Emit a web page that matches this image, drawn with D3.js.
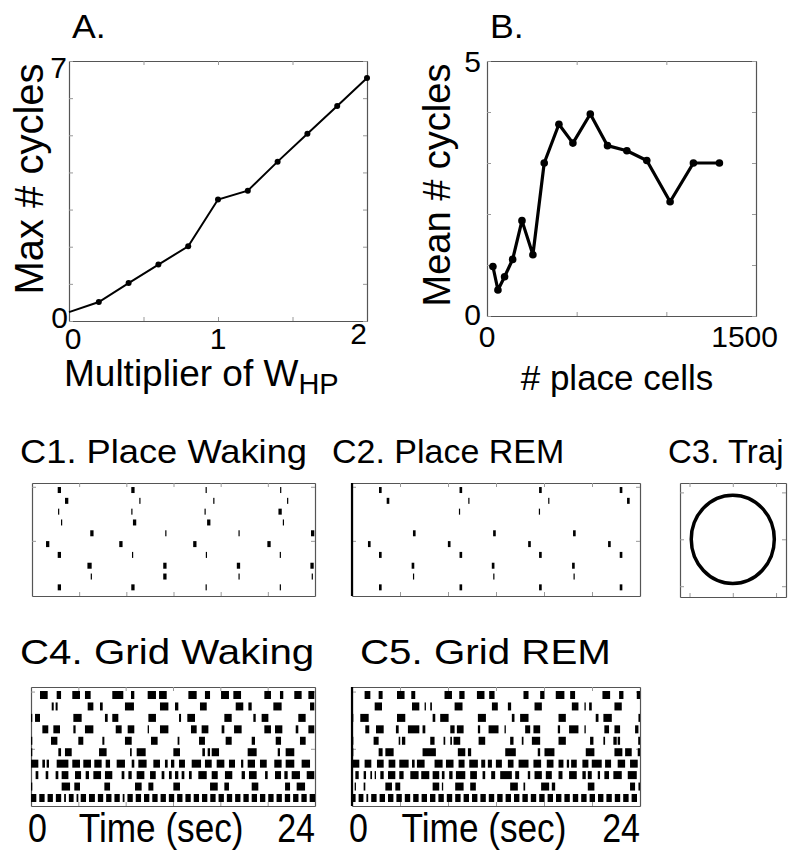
<!DOCTYPE html>
<html>
<head>
<meta charset="utf-8">
<script src="https://cdn.jsdelivr.net/npm/d3@7"></script>
<style>
  body { margin: 0; background: #fff; }
  text { font-family: "Liberation Sans", Arial, Helvetica, sans-serif; fill: #000; }
</style>
</head>
<body>
<svg id="fig" width="792" height="857"></svg>
<script>
// ---- panel A: max # cycles vs multiplier of W_HP
var multW = [0, 0.2, 0.4, 0.6, 0.8, 1.0, 1.2, 1.4, 1.6, 1.8, 2.0];
var maxCycles = [0.24, 0.51, 1.02, 1.52, 2.01, 3.27, 3.51, 4.29, 5.04, 5.79, 6.54];

// ---- panel B: mean # cycles vs # place cells
var nPlaceCells = [33, 61, 98, 143, 195, 256, 319, 401, 479, 576, 672, 780, 891, 1021, 1151, 1296];
var meanCycles = [0.97, 0.51, 0.77, 1.11, 1.87, 1.2, 3.0, 3.76, 3.39, 3.96, 3.34, 3.24, 3.05, 2.24, 3.0, 3.0];

// ---- C1 / C2: place cell spikes, one list per cell, [time (s), duration (s)]
var placeWaking = [
  [[2.32, 0.28], [8.56, 0.28], [14.77, 0.1], [21.09, 0.1]],
  [[2.94, 0.28], [9.15, 0.1], [15.42, 0.1], [21.68, 0.1]],
  [[2.26, 0.1], [8.47, 0.1], [14.68, 0.1], [21.04, 0.28]],
  [[2.51, 0.1], [8.70, 0.28], [14.99, 0.28], [21.32, 0.1]],
  [[5.08, 0.28], [11.35, 0.1], [17.56, 0.1], [23.8, 0.28]],
  [[1.33, 0.28], [7.54, 0.28], [13.81, 0.28], [20.1, 0.28]],
  [[2.32, 0.28], [8.53, 0.1], [14.79, 0.1], [21.06, 0.1]],
  [[4.88, 0.36], [11.27, 0.28], [17.51, 0.28], [23.75, 0.28]],
  [[5.03, 0.1], [11.27, 0.28], [17.56, 0.1], [23.77, 0.1]],
  [[2.32, 0.28], [8.56, 0.28], [14.77, 0.1], [21.06, 0.1]]
];
var placeREM = [
  [[2.36, 0.22], [9.07, 0.22], [15.7, 0.22], [22.42, 0.22]],
  [[3.0, 0.22], [9.74, 0.1], [16.4, 0.1], [23.03, 0.22]],
  [[8.96, 0.1], [15.62, 0.1]],
  [],
  [[5.19, 0.22], [11.87, 0.22], [18.53, 0.22]],
  [[1.44, 0.22], [8.1, 0.22], [14.79, 0.22], [21.45, 0.22]],
  [[2.36, 0.22], [9.07, 0.22], [15.7, 0.22], [22.42, 0.22]],
  [[5.08, 0.22], [11.76, 0.22], [18.45, 0.22]],
  [[5.13, 0.1], [11.82, 0.1], [18.51, 0.1]],
  [[2.36, 0.22], [9.07, 0.22], [15.7, 0.22], [22.42, 0.22]]
];

// ---- C3: trajectory
var trajCenter = [0, 0];
var trajRadius = [0.96, 0.94];

// ---- C4 / C5: grid cell bursts, one list per cell, [start, end] (s)
var gridWaking = [
  [[0.76,1.41],[2.17,2.54],[3.49,4.14],[4.56,5.04],[6.87,7.8],[8.45,8.73],[9.86,10.56],[10.82,11.47],[13.3,14.0],[14.7,15.13],[16.06,16.73],[17.1,17.75],[19.72,20.28],[21.04,21.32],[22.25,22.87],[23.44,23.94]],
  [[1.75,1.92],[2.08,2.25],[4.79,5.27],[5.83,6.06],[7.94,8.7],[10.9,11.61],[12.17,12.45],[14.28,14.85],[17.3,17.94],[18.37,18.65],[20.48,21.18],[23.58,23.94]],
  [[0,0.11],[0.34,0.76],[3.58,4.28],[6.25,6.48],[6.87,7.38],[9.92,10.56],[12.51,12.68],[13.21,13.86],[16.34,16.96],[18.79,18.99],[19.49,20.06],[22.59,23.21]],
  [[0.96,1.46],[1.89,2.45],[3.58,3.77],[4.56,5.27],[7.16,7.66],[8.17,8.73],[9.86,9.97],[10.9,11.61],[13.52,14.0],[14.42,14.99],[16.11,16.34],[17.16,17.8],[19.72,20.28],[20.62,21.24],[22.37,22.59],[23.44,23.94]],
  [[0,0.11],[1.69,2.23],[4.0,4.42],[6.03,6.2],[7.94,8.51],[10.14,10.7],[12.39,12.54],[14.2,14.7],[16.45,16.96],[18.65,18.93],[20.68,21.13],[22.73,23.21]],
  [[0,0.11],[2.31,2.54],[2.87,3.44],[5.75,6.39],[8.37,8.51],[8.93,9.69],[12.03,12.59],[14.48,14.7],[14.93,15.13],[15.27,15.89],[18.31,19.07],[20.85,21.04],[21.52,22.25]],
  [[0,0.62],[0.96,1.18],[1.32,1.52],[2.17,3.16],[3.49,4.14],[4.42,5.07],[5.35,5.97],[6.31,6.68],[7.24,7.94],[8.51,8.73],[9.07,9.77],[10.34,10.9],[11.32,11.55],[11.83,12.11],[12.51,13.01],[13.58,14.37],[14.7,15.27],[15.69,16.34],[16.73,17.24],[17.75,17.94],[18.31,18.93],[19.35,19.92],[20.56,21.18],[21.52,22.25],[22.87,23.58]],
  [[0.39,0.62],[1.24,1.46],[2.08,2.31],[2.59,3.16],[3.72,4.23],[4.62,4.9],[5.27,5.92],[6.25,6.87],[7.66,7.89],[8.23,8.51],[8.93,9.58],[10.06,10.54],[11.04,11.27],[11.66,11.89],[12.17,12.45],[12.73,12.96],[13.35,13.58],[14.14,14.85],[15.27,15.78],[16.39,17.01],[17.8,18.08],[18.42,19.07],[19.78,20.0],[20.62,21.13],[21.41,21.69],[22.03,22.73],[23.3,23.94]],
  [[0,0.11],[2.59,3.3],[3.66,4.14],[6.2,6.68],[8.79,9.35],[9.92,10.34],[12.03,12.59],[15.13,15.78],[16.34,16.73],[18.65,19.21],[21.47,21.89],[22.45,23.16]],
  [[0,0.45],[0.7,1.15],[1.4,1.85],[2.1,2.55],[2.8,2.95],[3.2,3.6],[3.85,4.0],[4.2,4.65],[4.9,5.4],[5.65,6.1],[6.35,6.8],[7.05,7.5],[7.75,7.9],[8.15,8.6],[8.85,9.3],[9.55,10.0],[10.25,10.7],[10.95,11.4],[11.65,12.1],[12.35,12.8],[13.05,13.5],[13.75,14.2],[14.45,14.9],[15.15,15.6],[15.85,16.3],[16.55,17.0],[17.25,17.7],[17.95,18.4],[18.65,19.1],[19.35,19.8],[20.05,20.5],[20.75,21.2],[21.45,21.9],[22.15,22.6],[22.85,23.3],[23.55,24.0]]
];
var gridREM = [
  [[1.05,1.53],[2.22,2.55],[3.75,4.38],[4.94,5.27],[7.71,8.33],[8.94,9.38],[10.41,11.04],[11.43,11.88],[14.29,14.71],[15.68,16.04],[16.98,17.7],[18.18,18.59],[20.87,21.51],[22.26,22.62],[23.73,24.0]],
  [[1.89,2.5],[5.0,5.61],[6.05,6.16],[6.52,6.66],[8.55,9.21],[11.66,12.15],[12.99,13.26],[15.21,15.82],[18.32,18.87],[19.37,19.48],[19.76,19.98],[21.87,22.48]],
  [[0,0.11],[0.69,1.39],[3.75,4.44],[6.72,6.94],[7.35,8.05],[10.49,11.16],[13.32,13.54],[14.01,14.71],[17.21,17.82],[20.31,20.54],[20.95,21.65],[23.87,24.0]],
  [[1.11,1.44],[2.0,2.64],[3.66,3.89],[4.66,5.61],[5.88,6.11],[8.19,8.55],[8.74,9.3],[10.49,10.68],[11.38,12.21],[12.71,12.82],[14.43,14.85],[15.12,15.68],[17.15,17.34],[18.09,18.87],[19.37,19.48],[21.03,21.42],[21.87,22.34],[23.59,23.87]],
  [[0,0.11],[1.8,2.22],[3.89,4.02],[4.16,4.44],[6.52,6.88],[7.63,7.77],[8.19,8.33],[8.46,9.02],[10.55,11.1],[13.18,13.46],[14.15,14.29],[14.99,15.68],[17.21,17.82],[19.84,20.12],[20.95,21.09],[21.78,22.06],[22.14,22.34],[23.85,24.0]],
  [[0,0.11],[2.22,2.55],[2.78,3.47],[5.88,6.99],[8.82,9.44],[9.66,9.93],[12.77,13.65],[15.48,15.68],[16.04,16.87],[19.48,20.2],[21.87,22.53],[22.76,23.31],[23.81,24.0]],
  [[0,0.61],[1.05,1.61],[2.08,2.64],[3.05,3.61],[3.94,4.72],[5.0,5.22],[5.41,6.05],[6.88,7.55],[7.83,8.46],[8.88,9.38],[9.77,10.49],[10.77,11.1],[11.32,11.66],[11.99,12.49],[12.99,13.46],[13.88,14.71],[15.12,15.76],[16.23,16.79],[17.21,17.62],[17.9,18.09],[18.26,18.73],[19.2,19.7],[19.98,20.81],[21.09,21.59],[22.14,22.76],[23.17,23.81]],
  [[0.28,0.56],[0.97,1.17],[1.53,1.67],[1.89,2.0],[2.36,2.64],[3.0,3.61],[3.94,4.3],[4.86,5.55],[5.77,6.44],[6.72,7.27],[7.49,7.71],[8.1,8.38],[8.66,9.44],[9.85,10.41],[10.88,11.1],[11.6,11.93],[12.35,13.32],[13.6,13.93],[14.65,14.85],[15.21,15.82],[16.15,16.65],[17.21,17.54],[18.09,18.73],[19.2,19.48],[19.65,19.98],[20.48,20.67],[21.03,21.42],[21.78,22.48],[22.98,23.73]],
  [[0.22,0.33],[0.97,1.11],[2.78,3.33],[3.61,4.02],[6.72,7.27],[7.49,7.55],[8.6,9.3],[9.85,10.32],[13.18,13.82],[14.29,14.43],[15.76,16.43],[16.65,16.93],[19.65,20.2],[23.17,23.59],[23.87,24.0]],
  [[0,0.3],[0.55,0.95],[1.2,1.35],[1.6,2.05],[2.3,2.75],[3.0,3.45],[3.7,4.15],[4.4,4.85],[5.1,5.55],[5.8,6.25],[6.5,6.95],[7.2,7.65],[7.9,8.35],[8.6,9.05],[9.3,9.75],[10.0,10.45],[10.7,11.15],[11.4,11.85],[12.1,12.55],[12.8,13.25],[13.5,13.95],[14.2,14.65],[14.9,15.35],[15.6,16.05],[16.3,16.75],[17.0,17.45],[17.7,18.15],[18.4,18.85],[19.1,19.55],[19.8,20.25],[20.5,20.95],[21.2,21.65],[21.9,22.35],[22.6,23.05],[23.3,23.75]]
];

var timeTicks = [0, 4, 8, 12, 16, 20, 24];
var cellTicks = [0.7, 5.7];

var svg = d3.select("#fig");

// matlab style box with inward ticks on all four sides
function drawBox(x, y, xticks, yticks, leftColor) {
  var xl = d3.min(x.range()), xr = d3.max(x.range());
  var yt = d3.min(y.range()), yb = d3.max(y.range());
  var g = svg.append("g");
  g.append("g").attr("transform", "translate(0," + yb + ")")
    .call(d3.axisBottom(x).tickValues(xticks).tickSize(-4).tickSizeOuter(0).tickFormat(""));
  g.append("g").attr("transform", "translate(0," + yt + ")")
    .call(d3.axisTop(x).tickValues(xticks).tickSize(-4).tickSizeOuter(0).tickFormat(""));
  g.append("g").attr("transform", "translate(" + xl + ",0)")
    .call(d3.axisLeft(y).tickValues(yticks).tickSize(-4).tickSizeOuter(0).tickFormat(""));
  g.append("g").attr("transform", "translate(" + xr + ",0)")
    .call(d3.axisRight(y).tickValues(yticks).tickSize(-4).tickSizeOuter(0).tickFormat(""));
  g.selectAll(".domain").attr("stroke", "#555").attr("stroke-width", 1.2);
  g.selectAll(".tick line").attr("stroke", "#999");
  if (leftColor) {
    g.append("line").attr("x1", xl).attr("x2", xl).attr("y1", yt).attr("y2", yb)
      .attr("stroke", leftColor).attr("stroke-width", 2.2);
  }
  return g;
}

function label(txt, x, y, size, anchor, rot, sx) {
  var t = svg.append("text").attr("font-size", size).attr("text-anchor", anchor || "start").text(txt);
  t.attr("transform", "translate(" + x + "," + y + ")" + (rot ? " rotate(" + rot + ")" : "") +
    (sx ? " scale(" + sx + ",1)" : ""));
  return t;
}

// ---------- A ----------
var xA = d3.scaleLinear().domain([0, 2]).range([69, 367]);
var yA = d3.scaleLinear().domain([0, 7]).range([321, 61]);
drawBox(xA, yA, [0, 0.5, 1, 1.5, 2], d3.range(0, 8));
var ptsA = multW.map(function (d, i) { return [d, maxCycles[i]]; });
svg.append("path").datum(ptsA)
  .attr("d", d3.line().x(function (d) { return xA(d[0]); }).y(function (d) { return yA(d[1]); }))
  .attr("fill", "none").attr("stroke", "#000").attr("stroke-width", 2);
svg.append("g").selectAll("circle").data(ptsA.slice(1)).enter().append("circle")
  .attr("cx", function (d) { return xA(d[0]); }).attr("cy", function (d) { return yA(d[1]); })
  .attr("r", 3).attr("fill", "#000");
label("A.", 72, 38, 33, "start", 0, 1.08);
label("Max # cycles", 43, 179, 40, "middle", -90);
label("7", 67, 78, 30, "end");
label("0", 68, 328, 30, "end");
label("0", xA(0) + 4, 349, 30, "middle");
label("1", xA(1), 349, 30, "middle");
label("2", xA(2), 344, 30, "end");
var xlabA = label("Multiplier of W", 64, 386, 37);
xlabA.append("tspan").attr("font-size", 29).attr("dy", 8).text("HP");

// ---------- B ----------
var xB = d3.scaleLinear().domain([0, 1500]).range([487, 756]);
var yB = d3.scaleLinear().domain([0, 5]).range([316, 61]);
drawBox(xB, yB, [0, 500, 1000, 1500], d3.range(0, 6));
var ptsB = nPlaceCells.map(function (d, i) { return [d, meanCycles[i]]; });
svg.append("path").datum(ptsB)
  .attr("d", d3.line().x(function (d) { return xB(d[0]); }).y(function (d) { return yB(d[1]); }))
  .attr("fill", "none").attr("stroke", "#000").attr("stroke-width", 3.2).attr("stroke-linejoin", "round");
svg.append("g").selectAll("circle").data(ptsB).enter().append("circle")
  .attr("cx", function (d) { return xB(d[0]); }).attr("cy", function (d) { return yB(d[1]); })
  .attr("r", 3.8).attr("fill", "#000");
label("B.", 490, 38, 33, "start", 0, 1.08);
label("Mean # cycles", 450, 185, 38, "middle", -90);
label("5", 481, 72, 30, "end");
label("0", 481, 325, 30, "end");
label("0", xB(0), 347, 30, "middle");
label("1500", 778, 347, 30, "end");
label("# place cells", 617, 390, 35, "middle");

// ---------- C1 / C2 ----------
function placeRaster(data, left, right, leftColor) {
  var x = d3.scaleLinear().domain([0, 24]).range([left, right]);
  var y = d3.scaleLinear().domain([0.35, 10.8]).range([483, 596]);
  drawBox(x, y, timeTicks, cellTicks, leftColor);
  data.forEach(function (row, i) {
    svg.append("g").selectAll("rect").data(row).enter().append("rect")
      .attr("x", function (d) { return x(d[0] - d[1] / 2); })
      .attr("width", function (d) { return Math.max(1.2, x(d[1]) - x(0)); })
      .attr("y", y(i + 1) - 3).attr("height", 6).attr("fill", "#000");
  });
}
placeRaster(placeWaking, 32, 315);
placeRaster(placeREM, 352, 640, "#000");
label("C1. Place Waking", 20, 463, 33, "start", 0, 1.1);
label("C2. Place REM", 332, 463, 33, "start", 0, 1.03);
label("C3. Traj", 668, 463, 33, "start", 0, 1.0);

// ---------- C3 ----------
var xT = d3.scaleLinear().domain([-1.22, 1.23]).range([680, 786]);
var yT = d3.scaleLinear().domain([-1.23, 1.2]).range([597, 483]);
drawBox(xT, yT, [-1, 0, 1], [-1, 0, 1]);
svg.append("ellipse")
  .attr("cx", xT(trajCenter[0])).attr("cy", yT(trajCenter[1]))
  .attr("rx", xT(trajRadius[0]) - xT(0)).attr("ry", yT(0) - yT(trajRadius[1]))
  .attr("fill", "none").attr("stroke", "#000").attr("stroke-width", 3.5);

// ---------- C4 / C5 ----------
function gridRaster(data, left, right, leftColor) {
  var x = d3.scaleLinear().domain([0, 24]).range([left, right]);
  var y = d3.scaleLinear().domain([0.3, 10.7]).range([687, 806]);
  drawBox(x, y, timeTicks, cellTicks, leftColor);
  data.forEach(function (row, i) {
    svg.append("g").selectAll("rect").data(row).enter().append("rect")
      .attr("x", function (d) { return x(d[0]); })
      .attr("width", function (d) { return Math.max(1.3, x(d[1]) - x(d[0])); })
      .attr("y", y(i + 1) - 4).attr("height", 8).attr("fill", "#000");
  });
  return x;
}
var xC4 = gridRaster(gridWaking, 31, 315);
var xC5 = gridRaster(gridREM, 352, 640, "#000");
label("C4. Grid Waking", 20, 664, 36, "start", 0, 1.12);
label("C5. Grid REM", 360, 664, 36, "start", 0, 1.12);

function timeLabels(x) {
  label("0", x(0) - 3, 842, 40, "start", 0, 0.85);
  label("Time (sec)", x(11), 842, 40, "middle", 0, 0.88);
  label("24", x(24), 842, 40, "end", 0, 0.85);
}
timeLabels(xC4);
timeLabels(xC5);
</script>
</body>
</html>
